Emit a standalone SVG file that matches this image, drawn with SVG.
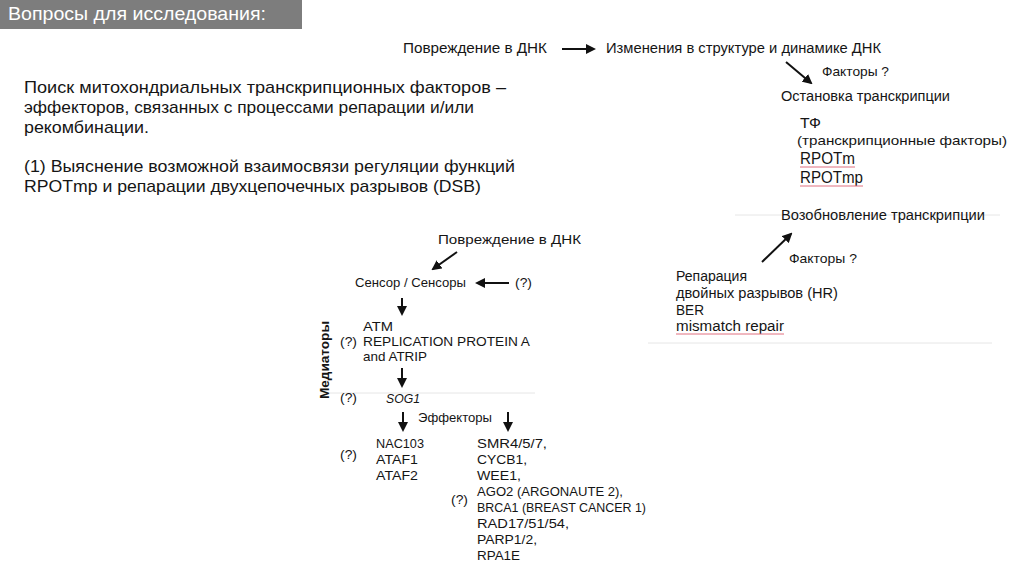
<svg xmlns="http://www.w3.org/2000/svg" width="1024" height="574" viewBox="0 0 1024 574">
<defs>
<style>
text{font-family:"Liberation Sans","Noto Sans",sans-serif;fill:#151515}
.t{font-size:17px}
.m{font-size:14px}
.s{font-size:13px}
.c{stroke:#111;stroke-width:2;fill:none;marker-end:url(#ah)}
.faint{stroke:#e6e6e6;stroke-width:1}
.sq{stroke:#e07080;stroke-width:1;fill:none}
</style>
<marker id="ah" viewBox="0 0 10 10" refX="8" refY="5" markerWidth="5" markerHeight="5" orient="auto">
<path d="M0,0 L10,5 L0,10 z" fill="#111"/>
</marker>
</defs>
<rect width="1024" height="574" fill="#fff"/>
<g id="title">
<rect x="0" y="0" width="302" height="29" fill="#7d7d7d"/>
<text x="8" y="20" style="font-size:18.5px;fill:#fff" textLength="258" lengthAdjust="spacingAndGlyphs">Вопросы для исследования:</text>
</g>
<g id="intro">
<text class="t" x="24" y="93" textLength="482" lengthAdjust="spacingAndGlyphs">Поиск митохондриальных транскрипционных факторов –</text>
<text class="t" x="24" y="113" textLength="450" lengthAdjust="spacingAndGlyphs">эффекторов, связанных с процессами репарации и/или</text>
<text class="t" x="24" y="133" textLength="125" lengthAdjust="spacingAndGlyphs">рекомбинации.</text>
<text class="t" x="24" y="172" textLength="491" lengthAdjust="spacingAndGlyphs">(1) Выяснение возможной взаимосвязи регуляции функций</text>
<text class="t" x="24" y="192" textLength="457" lengthAdjust="spacingAndGlyphs">RPOTmp и репарации двухцепочечных разрывов (DSB)</text>
</g>
<g id="faint-lines">
<line class="faint" x1="735" y1="215" x2="1000" y2="215"/>
<line class="faint" x1="648" y1="343" x2="992" y2="343"/>
<line class="faint" x1="320" y1="393" x2="535" y2="393"/>
</g>
<g id="connectors">
<line class="c" x1="562" y1="49" x2="594" y2="49"/>
<line class="c" x1="786" y1="62" x2="811" y2="83"/>
<line class="c" x1="762" y1="262" x2="791" y2="234"/>
<line class="c" x1="457" y1="252" x2="433" y2="269"/>
<line class="c" x1="509" y1="283" x2="477" y2="283"/>
<line class="c" x1="402" y1="298" x2="402" y2="314"/>
<line class="c" x1="402" y1="368" x2="402" y2="386"/>
<line class="c" x1="403" y1="412" x2="403" y2="430"/>
<line class="c" x1="508" y1="412" x2="508" y2="430"/>
</g>
<g id="n-damage-top"><text class="m" x="403" y="53" textLength="144" lengthAdjust="spacingAndGlyphs">Повреждение в ДНК</text></g>
<g id="n-changes"><text class="m" x="606" y="53" textLength="275" lengthAdjust="spacingAndGlyphs">Изменения в структуре и динамике ДНК</text></g>
<g id="n-factors1"><text class="s" x="822" y="76" textLength="67" lengthAdjust="spacingAndGlyphs">Факторы ?</text></g>
<g id="n-stop"><text class="m" x="781" y="101" textLength="169" lengthAdjust="spacingAndGlyphs">Остановка транскрипции</text></g>
<g id="n-tf">
<text x="800" y="128" style="font-size:15px" textLength="21" lengthAdjust="spacingAndGlyphs">ТФ</text>
<text class="s" x="797" y="145" textLength="210" lengthAdjust="spacingAndGlyphs">(транскрипционные факторы)</text>
<text x="800" y="164" style="font-size:16px" textLength="55" lengthAdjust="spacingAndGlyphs">RPOTm</text>
<path class="sq" d="M800,167 h55"/>
<text x="800" y="183" style="font-size:16px" textLength="63" lengthAdjust="spacingAndGlyphs">RPOTmp</text>
<path class="sq" d="M800,186 h63"/>
</g>
<g id="n-resume"><text class="m" x="781" y="220" textLength="204" lengthAdjust="spacingAndGlyphs">Возобновление транскрипции</text></g>
<g id="n-factors2"><text class="s" x="789" y="263" textLength="68" lengthAdjust="spacingAndGlyphs">Факторы ?</text></g>
<g id="n-repair">
<text class="m" x="676" y="281" textLength="71" lengthAdjust="spacingAndGlyphs">Репарация</text>
<text class="m" x="676" y="298" textLength="162" lengthAdjust="spacingAndGlyphs">двойных разрывов (HR)</text>
<text class="m" x="676" y="315" textLength="28" lengthAdjust="spacingAndGlyphs">BER</text>
<text class="m" x="676" y="331" textLength="108" lengthAdjust="spacingAndGlyphs">mismatch repair</text>
<path class="sq" d="M676,334 h108"/>
</g>
<g id="n-damage-bottom"><text class="s" x="438" y="244" textLength="143" lengthAdjust="spacingAndGlyphs">Повреждение в ДНК</text></g>
<g id="n-sensor">
<text class="s" x="355" y="287" textLength="111" lengthAdjust="spacingAndGlyphs">Сенсор / Сенсоры</text>
<text class="s" x="515" y="287" textLength="17" lengthAdjust="spacingAndGlyphs">(?)</text>
</g>
<g id="n-mediators-label">
<text x="0" y="0" transform="translate(329,360) rotate(-90)" text-anchor="middle" style="font-size:13px;font-weight:bold" textLength="78" lengthAdjust="spacingAndGlyphs">Медиаторы</text>
</g>
<g id="n-atm">
<text class="s" x="340" y="346" textLength="17" lengthAdjust="spacingAndGlyphs">(?)</text>
<text class="s" x="363" y="331" textLength="30" lengthAdjust="spacingAndGlyphs">ATM</text>
<text class="s" x="363" y="346" textLength="167" lengthAdjust="spacingAndGlyphs">REPLICATION PROTEIN A</text>
<text class="s" x="363" y="361" textLength="64" lengthAdjust="spacingAndGlyphs">and ATRIP</text>
</g>
<g id="n-sog1">
<text class="s" x="340" y="402" textLength="17" lengthAdjust="spacingAndGlyphs">(?)</text>
<text class="s" x="386" y="403" style="font-style:italic" textLength="34" lengthAdjust="spacingAndGlyphs">SOG1</text>
</g>
<g id="n-effectors"><text class="s" x="418" y="422" textLength="74" lengthAdjust="spacingAndGlyphs">Эффекторы</text></g>
<g id="n-nac">
<text class="s" x="340" y="459" textLength="17" lengthAdjust="spacingAndGlyphs">(?)</text>
<text class="s" x="376" y="448" textLength="48" lengthAdjust="spacingAndGlyphs">NAC103</text>
<text class="s" x="376" y="464" textLength="42" lengthAdjust="spacingAndGlyphs">ATAF1</text>
<text class="s" x="376" y="480" textLength="42" lengthAdjust="spacingAndGlyphs">ATAF2</text>
</g>
<g id="n-smr">
<text class="s" x="451" y="504" textLength="17" lengthAdjust="spacingAndGlyphs">(?)</text>
<text class="s" x="477" y="448" textLength="70" lengthAdjust="spacingAndGlyphs">SMR4/5/7,</text>
<text class="s" x="477" y="464" textLength="50" lengthAdjust="spacingAndGlyphs">CYCB1,</text>
<text class="s" x="477" y="480" textLength="44" lengthAdjust="spacingAndGlyphs">WEE1,</text>
<text class="s" x="477" y="496" textLength="146" lengthAdjust="spacingAndGlyphs">AGO2 (ARGONAUTE 2),</text>
<text class="s" x="477" y="512" textLength="169" lengthAdjust="spacingAndGlyphs">BRCA1 (BREAST CANCER 1)</text>
<text class="s" x="477" y="528" textLength="92" lengthAdjust="spacingAndGlyphs">RAD17/51/54,</text>
<text class="s" x="477" y="544" textLength="60" lengthAdjust="spacingAndGlyphs">PARP1/2,</text>
<text class="s" x="477" y="560" textLength="43" lengthAdjust="spacingAndGlyphs">RPA1E</text>
</g>
</svg>
